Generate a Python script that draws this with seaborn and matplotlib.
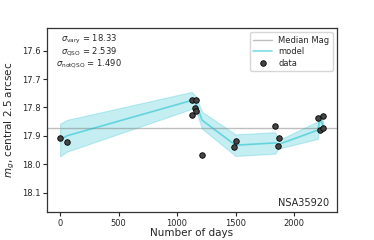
import numpy as np
import pandas as pd
import matplotlib
matplotlib.use("Agg")
import matplotlib.pyplot as plt
import seaborn as sns

# observed photometry
obs_days = [0, 57, 1126, 1131, 1154, 1160, 1162, 1214, 1485, 1507,
            1838, 1866, 1869, 2202, 2222, 2248, 2251]
obs_mag = [17.906, 17.923, 17.827, 17.772, 17.803, 17.772, 17.813, 17.969, 17.938, 17.919,
           17.866, 17.936, 17.907, 17.836, 17.880, 17.873, 17.830]

# model curve and 1-sigma band
model_days = [0, 57, 1126, 1160, 1214, 1500, 1838, 1869, 2202, 2225, 2251]
model_mag = [17.915, 17.900, 17.775, 17.785, 17.845, 17.933, 17.925, 17.930, 17.880, 17.835, 17.870]
model_sig = [0.058, 0.056, 0.030, 0.025, 0.030, 0.038, 0.038, 0.015, 0.031, 0.012, 0.015]

median_mag = 17.872
sigma_vary = 18.33
sigma_qso = 2.539
sigma_notqso = 1.490
name = "NSA35920"

sns.set_style("white")
plt.rcParams['font.family'] = ['DejaVu Sans']

fig = plt.figure(figsize=(3.74, 2.4), dpi=100)
ax = fig.add_axes([0.126, 0.115, 0.775, 0.768])

mod = pd.DataFrame({'days': model_days, 'mag': model_mag, 'sig': model_sig})
obs = pd.DataFrame({'days': obs_days, 'mag': obs_mag})

ax.axhline(median_mag, color='gray', alpha=0.5, lw=1, label='Median Mag')
ax.fill_between(mod['days'], mod['mag'] - mod['sig'], mod['mag'] + mod['sig'],
                color='#17becf', alpha=0.25, lw=0.8)
sns.lineplot(data=mod, x='days', y='mag', ax=ax, color='#17becf', alpha=0.55,
             lw=1.2, label='model')
sns.scatterplot(data=obs, x='days', y='mag', ax=ax, color='#444444', edgecolor='black',
                linewidth=0.6, s=16, label='data', zorder=5)

ax.set_xlim(-111, 2367)
ax.set_ylim(18.17, 17.52)
ax.set_xticks([0, 500, 1000, 1500, 2000])
ax.set_yticks([17.6, 17.7, 17.8, 17.9, 18.0, 18.1])
ax.tick_params(labelsize=6, length=3, width=0.8, pad=1.5, direction='out',
               bottom=True, left=True)
for s in ax.spines.values():
    s.set_color('#333333')
    s.set_linewidth(0.9)

ax.set_xlabel('Number of days', fontsize=7.5, labelpad=0)
ax.set_ylabel('$m_g$, central 2.5 arcsec', fontsize=7.5, labelpad=4)

ax.text(0.048, 0.939, r'$\sigma_{\rm vary}$ = %.2f' % sigma_vary, transform=ax.transAxes,
        fontsize=6, va='center')
ax.text(0.048, 0.874, r'$\sigma_{\rm QSO}$ = %.3f' % sigma_qso, transform=ax.transAxes,
        fontsize=6, va='center')
ax.text(0.030, 0.809, r'$\sigma_{\rm notQSO}$ = %.3f' % sigma_notqso, transform=ax.transAxes,
        fontsize=6, va='center')
ax.text(0.972, 0.052, name, transform=ax.transAxes, fontsize=7, ha='right', va='center')

ax.legend(loc='upper right', fontsize=6, frameon=True, handlelength=2.2,
          borderpad=0.4, labelspacing=0.3, framealpha=0.8)

fig.savefig('out.png', dpi=100)
